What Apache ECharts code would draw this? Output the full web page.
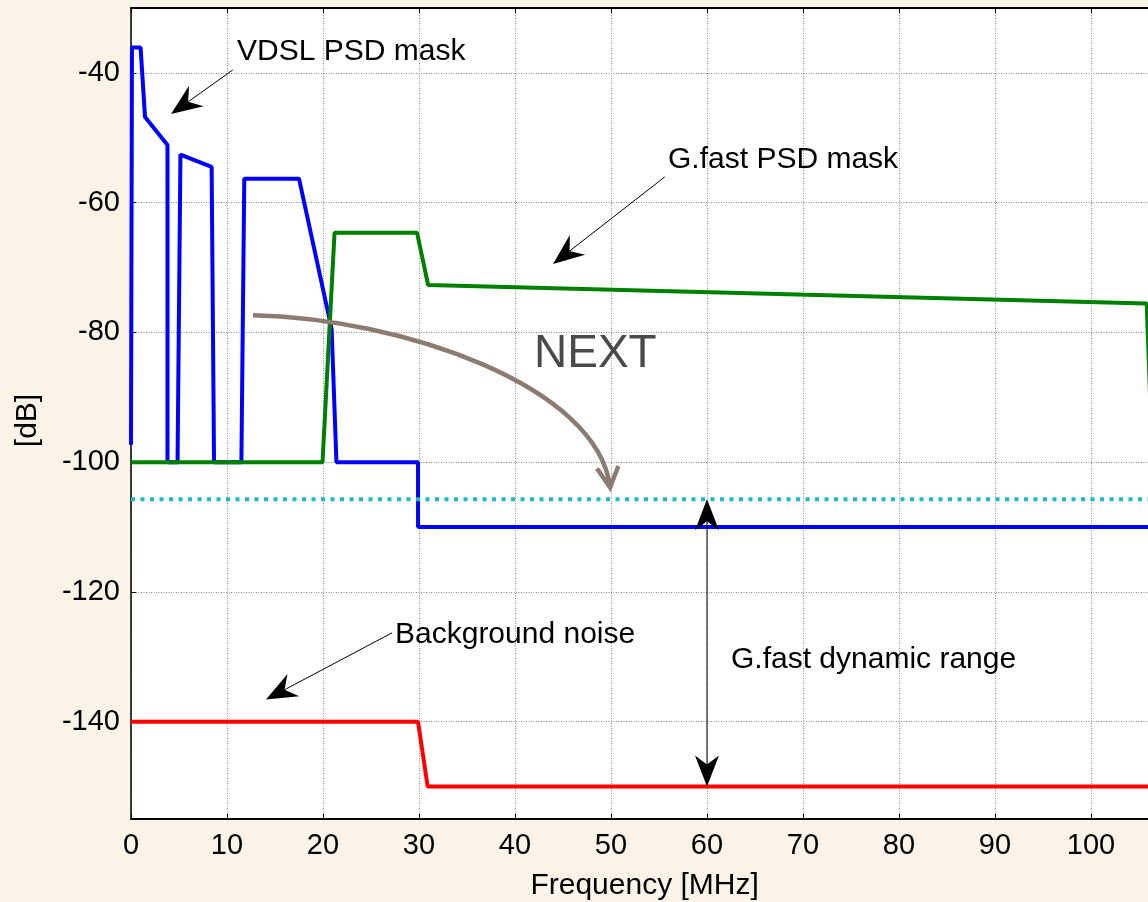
<!DOCTYPE html>
<html><head><meta charset="utf-8">
<script src="https://cdn.jsdelivr.net/npm/echarts@6/dist/echarts.min.js"></script>
<style>html,body{margin:0;padding:0;background:#faf3e8;}#c{width:1148px;height:902px;}</style>
</head><body><div id="c"></div>
<script>
// ---- data ----
const xTicks = [0, 10, 20, 30, 40, 50, 60, 70, 80, 90, 100];
const yTicks = [-140, -120, -100, -80, -60, -40];
const vdslF  = [0, 0.1, 1.0, 1.46, 3.8, 3.8, 4.85, 5.15, 8.4, 8.65, 11.5, 11.8, 17.5, 20.9, 21.4, 29.9, 29.9, 107];
const vdslDB = [-97.3, -36.1, -36.1, -46.8, -51.1, -100, -100, -52.6, -54.5, -100, -100, -56.3, -56.3, -79.5, -100, -100, -110, -110];
const gfastF  = [0, 19.95, 21.2, 29.8, 30.95, 105.8, 106.4];
const gfastDB = [-100, -100, -64.65, -64.65, -72.7, -75.55, -100];
const noiseF  = [0, 29.9, 30.9, 107];
const noiseDB = [-140, -140, -150, -150];
const floorF  = [0, 107];
const floorDB = [-105.7, -105.7];

// annotations (data units: MHz, dB)
const noteTexts = ['VDSL PSD mask', 'G.fast PSD mask', 'Background noise', 'G.fast dynamic range'];
const noteF  = [11.04, 55.94, 27.5, 62.5];
const noteDB = [-36.8, -53.35, -126.65, -130.4];
const arrowFrom = [[10.6, -39.55], [55.6, -56.04], [27.2, -126.3]];
const arrowTo   = [[4.17, -46.33], [43.96, -69.45], [14.06, -136.6]];
const rangeF = 60;
const rangeDB = [-105.7, -150];
const nextText = 'NEXT';
const nextAt = [41.98, -83.4];
const nextCurve = [[12.71, -77.35], [28.02, -77.82], [48.65, -88.15], [49.9, -103.9]];

const FONT = '"Liberation Sans", Arial, Helvetica, sans-serif';
const zip = (a, b) => a.map((v, i) => [v, b[i]]);

const chart = echarts.init(document.getElementById('c'), null, {renderer: 'canvas'});
const gridStyle = {color: '#8a8a8a', width: 1, type: [1, 1.5]};
chart.setOption({
  backgroundColor: '#faf3e8',
  animation: false,
  grid: {left: 131, top: 8, width: 1027.2, height: 811, backgroundColor: '#ffffff', show: true, borderWidth: 0,
         containLabel: false, outerBoundsMode: 'none'},
  xAxis: [{
    type: 'value', min: 0, max: 107, interval: 10,
    name: 'Frequency [MHz]', nameLocation: 'middle', nameGap: 52,
    nameTextStyle: {fontSize: 30, color: '#000', fontFamily: FONT},
    axisLine: {show: true, onZero: false, lineStyle: {color: '#000', width: 2}},
    axisTick: {show: true, inside: true, length: 5, lineStyle: {color: '#000', width: 1}},
    axisLabel: {fontSize: 29, color: '#000', fontFamily: FONT, margin: 12, showMaxLabel: false},
    splitLine: {show: true, lineStyle: gridStyle}
  }, {
    type: 'value', position: 'top', min: 0, max: 107, interval: 10,
    axisLine: {show: true, onZero: false, lineStyle: {color: '#000', width: 2}},
    axisTick: {show: true, inside: true, length: 5, lineStyle: {color: '#000', width: 1}},
    axisLabel: {show: false}, splitLine: {show: false}
  }],
  yAxis: [{
    type: 'value', min: -155, max: -30,
    name: '[dB]', nameLocation: 'middle', nameGap: 88, nameRotate: 90,
    nameTextStyle: {fontSize: 30, color: '#000', fontFamily: FONT, padding: [0, 14, 0, 0]},
    axisLine: {show: true, onZero: false, lineStyle: {color: '#000', width: 1.5}},
    axisTick: {show: true, inside: true, length: 5, customValues: yTicks, lineStyle: {color: '#000', width: 1}},
    axisLabel: {customValues: yTicks, fontSize: 29, color: '#000', fontFamily: FONT, margin: 11},
    splitLine: {show: true, lineStyle: gridStyle}
  }],
  series: [
    {type: 'line', name: 'VDSL PSD mask', data: zip(vdslF, vdslDB), symbol: 'none', z: 3,
     lineStyle: {color: '#0000ff', width: 4}},
    {type: 'line', name: 'G.fast PSD mask', data: zip(gfastF, gfastDB), symbol: 'none', z: 4,
     lineStyle: {color: '#008000', width: 4}},
    {type: 'line', name: 'Background noise', data: zip(noiseF, noiseDB), symbol: 'none', z: 4,
     lineStyle: {color: '#ff0000', width: 4}},
    {type: 'line', name: 'Floor', data: zip(floorF, floorDB), symbol: 'none', z: 4,
     lineStyle: {color: '#1cbcbc', width: 4, type: [4, 5.5], cap: 'butt'}}
  ]
});

function px(p) { return chart.convertToPixel({xAxisIndex: 0, yAxisIndex: 0}, p); }
function head(tip, from, L, W, N) {
  const dx = from[0] - tip[0], dy = from[1] - tip[1];
  const len = Math.hypot(dx, dy), bx = dx / len, by = dy / len, qx = -by, qy = bx;
  return {
    pts: [[tip[0], tip[1]], [tip[0] + bx * L + qx * W, tip[1] + by * L + qy * W],
          [tip[0] + bx * N, tip[1] + by * N], [tip[0] + bx * L - qx * W, tip[1] + by * L - qy * W]],
    notch: [tip[0] + bx * N, tip[1] + by * N]
  };
}
const els = [];
noteTexts.forEach((t, i) => {
  const p = px([noteF[i], noteDB[i]]);
  els.push({type: 'text', x: p[0], y: p[1], z: 20,
    style: {text: t, fontSize: 30, fontFamily: FONT, fill: '#000', align: 'left', verticalAlign: 'middle'}});
});
arrowFrom.forEach((f, i) => {
  const a = px(f), b = px(arrowTo[i]);
  const h = head(b, a, 31, 12.5, 21);
  els.push({type: 'line', z: 20, shape: {x1: a[0], y1: a[1], x2: h.notch[0], y2: h.notch[1]}, style: {stroke: '#000', lineWidth: 1}});
  els.push({type: 'polygon', z: 20, shape: {points: h.pts}, style: {fill: '#000'}});
});
{
  const a = px([rangeF, rangeDB[0]]), b = px([rangeF, rangeDB[1]]);
  const h1 = head(a, b, 31, 12, 22), h2 = head(b, a, 31, 12, 22);
  els.push({type: 'line', z: 20, shape: {x1: h1.notch[0], y1: h1.notch[1], x2: h2.notch[0], y2: h2.notch[1]}, style: {stroke: '#000', lineWidth: 1}});
  els.push({type: 'polygon', z: 20, shape: {points: h1.pts}, style: {fill: '#000'}});
  els.push({type: 'polygon', z: 20, shape: {points: h2.pts}, style: {fill: '#000'}});
}
{
  const c = nextCurve.map(px);
  els.push({type: 'bezierCurve', z: 19, shape: {x1: c[0][0], y1: c[0][1], cpx1: c[1][0], cpy1: c[1][1], cpx2: c[2][0], cpy2: c[2][1], x2: c[3][0], y2: c[3][1]},
    style: {stroke: '#8c7b70', lineWidth: 4.5, fill: null}});
  const tip = c[3], dx = c[2][0] - tip[0], dy = c[2][1] - tip[1], len = Math.hypot(dx, dy);
  const bx = dx / len, by = dy / len, ang = 28 * Math.PI / 180, L = 23;
  const r1 = [tip[0] + L * (bx * Math.cos(ang) - by * Math.sin(ang)), tip[1] + L * (bx * Math.sin(ang) + by * Math.cos(ang))];
  const r2 = [tip[0] + L * (bx * Math.cos(-ang) - by * Math.sin(-ang)), tip[1] + L * (bx * Math.sin(-ang) + by * Math.cos(-ang))];
  els.push({type: 'polyline', z: 19, shape: {points: [r1, tip, r2]}, style: {stroke: '#8c7b70', lineWidth: 4.5, fill: null, lineJoin: 'miter'}});
  const p = px(nextAt);
  els.push({type: 'text', x: p[0], y: p[1], z: 20,
    style: {text: nextText, fontSize: 46, fontFamily: FONT, fill: '#4a4a4a', align: 'left', verticalAlign: 'middle'}});
}
chart.setOption({graphic: {elements: els}});
</script></body></html>
